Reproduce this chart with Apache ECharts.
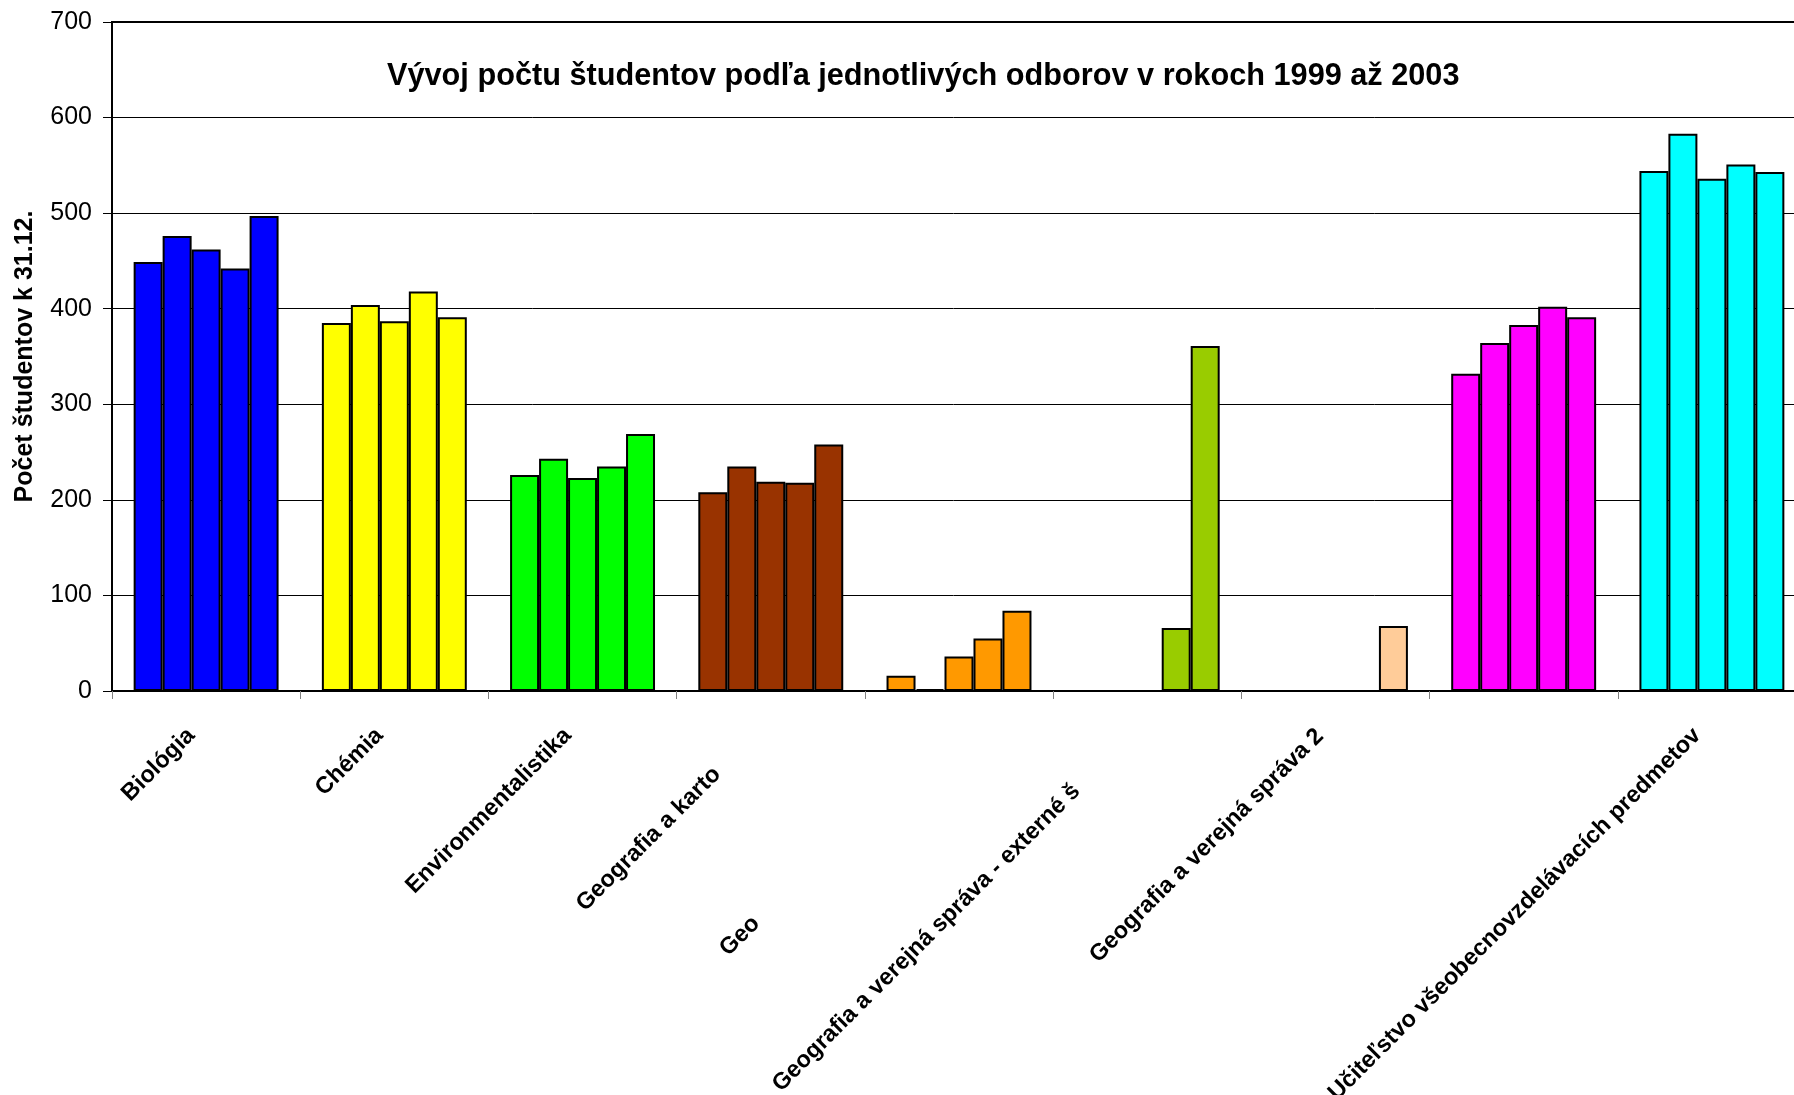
<!DOCTYPE html>
<html>
<head>
<meta charset="utf-8">
<script src="https://cdn.jsdelivr.net/npm/echarts@6/dist/echarts.min.js"></script>
<style>
html,body{margin:0;padding:0;background:#fff;overflow:hidden;}
#chart{width:1794px;height:1095px;}
</style>
</head>
<body>
<div id="chart"></div>
<script>
// Tick labels as they appear (some are clipped in the original)
const tickLabels = [
  "Biológia",
  "Chémia",
  "Environmentalistika",
  "Geografia a karto",
  "Geo",
  "Geografia a verejná správa - externé š",
  "Geografia a verejná správa 2",
  "",
  "Učiteľstvo všeobecnovzdelávacích predmetov"
];
const years = ["1999", "2000", "2001", "2002", "2003"];
const v1999 = [449, 385, 226, 208, 16, null, null, 332, 544];
const v2000 = [476, 404, 243, 235, 2, null, null, 364, 583];
const v2001 = [462, 387, 223, 219, 36, null, null, 383, 536];
const v2002 = [442, 418, 235, 218, 55, 66, null, 402, 551];
const v2003 = [497, 391, 269, 258, 84, 361, 68, 391, 543];
const yTicks = [0, 100, 200, 300, 400, 500, 600, 700];
const titleText = "Vývoj počtu študentov podľa jednotlivých odborov v rokoch 1999 až 2003";
const yName = "Počet študentov k 31.12.";

const catColors = ["#0000FF", "#FFFF00", "#00FF00", "#993300", "#FF9900", "#99CC00", "#FFCC99", "#FF00FF", "#00FFFF"];
const font = "'Liberation Sans', Arial, sans-serif";
const seriesData = [v1999, v2000, v2001, v2002, v2003];

const chart = echarts.init(document.getElementById('chart'), null, {renderer: 'canvas'});
const option = {
  animation: false,
  backgroundColor: '#ffffff',
  title: {
    text: titleText,
    left: 382, top: 56,
    textStyle: {fontFamily: font, fontSize: 30.7, fontWeight: 'bold', color: '#000'}
  },
  grid: {
    left: 112, top: 22, bottom: 404, width: 1694,
    outerBoundsMode: 'none', containLabel: false,
    show: true, borderColor: '#000', borderWidth: 2
  },
  xAxis: {
    type: 'category',
    data: tickLabels,
    axisLine: {lineStyle: {color: '#000', width: 2}},
    axisTick: {show: true, length: 8, lineStyle: {color: '#808080', width: 1}},
    axisLabel: {
      interval: 0, rotate: 45, margin: 26,
      fontFamily: font, fontSize: 23.5, fontWeight: 'bold', color: '#000',
      formatter: function (v, i) { return '{c' + i + '|' + v + '}'; },
      rich: {
        c0: {padding: [0, 21, 0, 0]},
        c1: {padding: [0, 21, 0, 0]},
        c2: {padding: [0, 21, 0, 0]},
        c3: {padding: [0, 76, 0, 0]},
        c4: {padding: [0, 287, 0, 0]},
        c5: {padding: [0, 100, 0, 0]},
        c6: {padding: [0, 22, 0, 0]},
        c7: {padding: [0, 21, 0, 0]},
        c8: {padding: [0, 21, 0, 0]}
      }
    },
    splitLine: {show: false}
  },
  yAxis: {
    type: 'value', min: yTicks[0], max: yTicks[yTicks.length - 1], interval: 100,
    name: yName, nameLocation: 'middle', nameGap: 74, nameRotate: 90,
    nameTextStyle: {fontFamily: font, fontSize: 25, fontWeight: 'bold', color: '#000'},
    axisLine: {show: true, lineStyle: {color: '#000', width: 2}},
    axisTick: {show: true, length: 9, lineStyle: {color: '#000', width: 1}},
    axisLabel: {margin: 20, fontFamily: font, fontSize: 25, color: '#000'},
    splitLine: {show: true, lineStyle: {color: '#000', width: 1}}
  },
  series: seriesData.map((d, si) => ({
    name: years[si],
    type: 'bar',
    data: d,
    barGap: '0%',
    barCategoryGap: '23%',
    itemStyle: {
      color: function (p) { return catColors[p.dataIndex]; },
      borderColor: '#000', borderWidth: 2
    }
  }))
};
chart.setOption(option);
</script>
</body>
</html>
